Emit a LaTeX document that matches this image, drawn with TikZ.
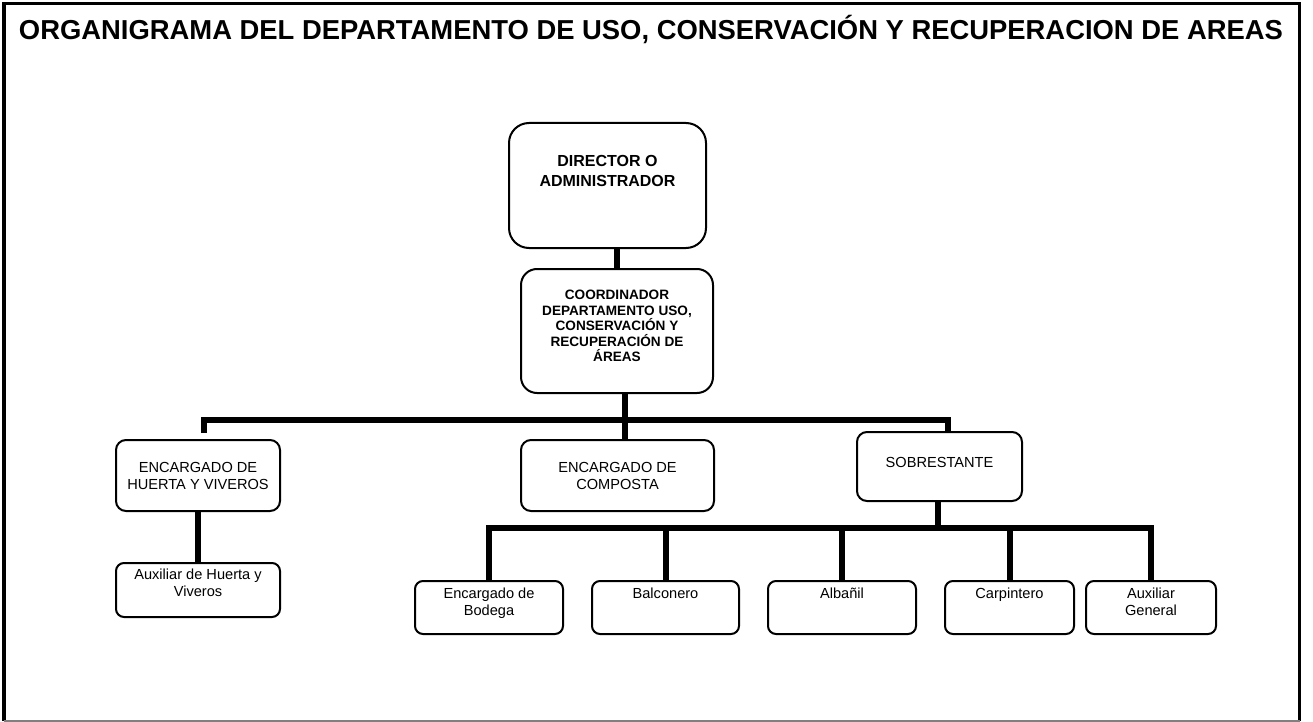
\documentclass[tikz,border=0pt]{standalone}
\usepackage{fontspec}
\setmainfont{Liberation Sans}
\usetikzlibrary{positioning,calc}
\tikzset{
	caja/.style={draw, line width=1pt, rounded corners=5pt, fill=white, align=center, inner sep=2pt},
	conector/.style={line width=3pt, line join=miter},
	etiq/.style={anchor=north, inner sep=0pt, align=center, font=\fontsize{7.3}{8.5}\selectfont},
	marco/.style={line width=1.6pt}
}

\begin{document}
\begin{tikzpicture}[x=0.5pt,y=-0.5pt]
	\useasboundingbox (0,0) rectangle (1313,722);
	
	% Frame and title
	\draw[marco] (4,721) -- (4,3.5) -- (1299.5,3.5) -- (1299.5,721);
	\draw[gray, line width=0.6pt] (4,721) -- (1299.5,721);
	\node[font=\fontsize{13.7}{16}\selectfont\bfseries] (titulo) at (651,29)
		{ORGANIGRAMA DEL DEPARTAMENTO DE USO, CONSERVACIÓN Y RECUPERACION DE AREAS};
	
	% Director
	\node[caja, rounded corners=10pt, minimum width=98.5pt, minimum height=62.5pt,
		label={[etiq, yshift=-16.5pt, font=\fontsize{8}{10}\selectfont\bfseries]north:DIRECTOR O\\ADMINISTRADOR}]
		(dir) at (607.5,185.5) {};
	
	% Coordinador
	\node[caja, rounded corners=8pt, minimum width=96pt, minimum height=62pt,
		font=\fontsize{6.8}{7.75}\selectfont\bfseries] (coord) at (617,331)
		{COORDINADOR\\DEPARTAMENTO USO,\\CONSERVACIÓN Y\\RECUPERACIÓN DE\\ÁREAS\\[-2.75pt]};
	
	% Second level
	\node[caja, minimum width=82pt, minimum height=35.5pt, font=\fontsize{7.3}{8.5}\selectfont]
		(huerta) at (198,475.5) {ENCARGADO DE\\HUERTA Y VIVEROS};
	\node[caja, minimum width=96.5pt, minimum height=35.5pt, font=\fontsize{7.3}{8.5}\selectfont]
		(comp) at (617.5,475.5) {ENCARGADO DE\\COMPOSTA};
	\node[caja, minimum width=82.5pt, minimum height=34.5pt,
		label={[etiq, yshift=-13pt]north:SOBRESTANTE}] (sob) at (939.5,466.5) {};
	
	% Third level
	\node[caja, rounded corners=4pt, minimum width=82pt, minimum height=27pt,
		label={[etiq, yshift=-3.5pt]north:Auxiliar de Huerta y\\Viveros}] (auxh) at (198,590) {};
	\node[caja, rounded corners=4pt, minimum width=74pt, minimum height=26.5pt,
		label={[etiq, yshift=-4pt]north:Encargado de\\Bodega}] (bod) at (489,607.5) {};
	\node[caja, rounded corners=4pt, minimum width=73.5pt, minimum height=26.5pt,
		label={[etiq, yshift=-4pt]north:Balconero}] (bal) at (665.5,607.5) {};
	\node[caja, rounded corners=4pt, minimum width=74pt, minimum height=26.5pt,
		label={[etiq, yshift=-4pt]north:Albañil}] (alb) at (842,607.5) {};
	\node[caja, rounded corners=4pt, minimum width=64.5pt, minimum height=26.5pt,
		label={[etiq, yshift=-4pt]north:Carpintero}] (car) at (1009.5,607.5) {};
	\node[caja, rounded corners=4pt, minimum width=65pt, minimum height=26.5pt,
		label={[etiq, yshift=-4pt]north:Auxiliar\\General}] (auxg) at (1151,607.5) {};
	
	% Connectors
	\coordinate (bus) at (625,420);
	\coordinate (bus2) at (938,528);
	\draw[conector] (dir.south -| coord.north) -- (coord.north);
	\draw[conector] (coord.south -| bus) -- (bus);
	\draw[conector] ([xshift=3pt,yshift=3pt]huerta.north) |- (bus) -| ([xshift=4.25pt]sob.north);
	\draw[conector] (bus) -- (bus |- comp.north);
	\draw[conector] (huerta.south) -- (auxh.north);
	\draw[conector] (sob.south -| bus2) -- (bus2);
	\draw[conector] (bod.north) |- (bus2) -| (auxg.north);
	\foreach \n in {bal,alb,car}
		\draw[conector] (\n.north) -- (\n.north |- bus2);
	
\end{tikzpicture}
\end{document}
